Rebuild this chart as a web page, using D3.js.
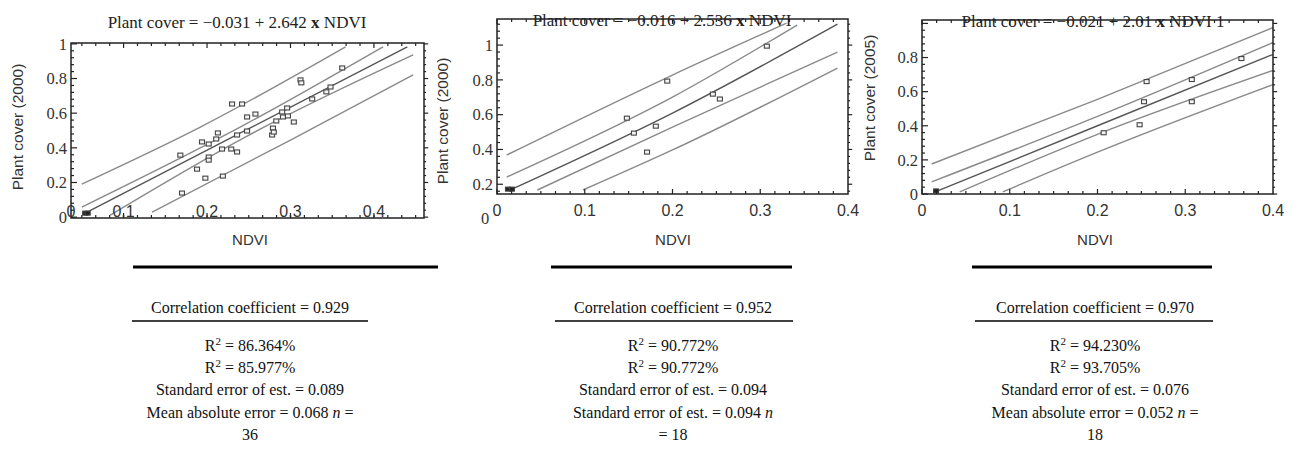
<!DOCTYPE html>
<html>
<head>
<meta charset="utf-8">
<script src="https://cdn.jsdelivr.net/npm/d3@7"></script>
<style>
  body { margin: 0; background: #fff; }
  svg { display: block; }
</style>
</head>
<body>
<svg id="chart" width="1296" height="453"></svg>
<script>
// ---- panel 1 : plant cover (2000) vs NDVI, n = 36
var ndvi1 = [0.054, 0.057, 0.168, 0.170, 0.188, 0.194, 0.198, 0.202, 0.202, 0.202, 0.211, 0.213,
             0.218, 0.219, 0.229, 0.230, 0.236, 0.236, 0.242, 0.248, 0.248, 0.258, 0.278, 0.279,
             0.280, 0.283, 0.290, 0.291, 0.296, 0.297, 0.304, 0.312, 0.313, 0.326, 0.343, 0.348, 0.362];
var cover1 = [0.023, 0.023, 0.358, 0.139, 0.277, 0.434, 0.225, 0.422, 0.347, 0.329, 0.451, 0.486,
              0.393, 0.237, 0.393, 0.653, 0.474, 0.376, 0.653, 0.578, 0.497, 0.595, 0.474, 0.514,
              0.491, 0.555, 0.607, 0.578, 0.630, 0.584, 0.549, 0.792, 0.775, 0.682, 0.723, 0.751, 0.861];
var solid1 = [0, 1];
// upper prediction, upper confidence, fitted, lower confidence, lower prediction
var bands1 = [
  [[0.050, 0.191], [0.192, 0.520], [0.366, 0.983]],
  [[0.050, 0.058], [0.243, 0.528], [0.411, 0.983]],
  [[0.054, 0.023], [0.243, 0.493], [0.440, 0.983]],
  [[0.084, 0.012], [0.243, 0.455], [0.447, 0.936]],
  [[0.134, 0.029], [0.300, 0.445], [0.447, 0.821]]
];
var xTicks1 = [0, 0.1, 0.2, 0.3, 0.4];
var yTicks1 = [0, 0.2, 0.4, 0.6, 0.8, 1];
var title1 = "Plant cover = \u22120.031 + 2.642 ";
var notes1 = ["Correlation coefficient = 0.929", "R^2 = 86.364%", "R^2 = 85.977%",
              "Standard error of est. = 0.089", "Mean absolute error = 0.068 *n* =", "36"];

// ---- panel 2 : plant cover (2000) vs NDVI, n = 18
var ndvi2 = [0.0125, 0.017, 0.148, 0.156, 0.171, 0.181, 0.194, 0.246, 0.254, 0.3075];
var cover2 = [0.172, 0.172, 0.580, 0.494, 0.385, 0.534, 0.793, 0.718, 0.690, 0.994];
var solid2 = [0, 1];
var bands2 = [
  [[0.011, 0.368], [0.200, 0.828], [0.330, 1.126]],
  [[0.011, 0.241], [0.200, 0.701], [0.342, 1.115]],
  [[0.015, 0.167], [0.200, 0.609], [0.388, 1.120]],
  [[0.046, 0.167], [0.200, 0.529], [0.388, 0.960]],
  [[0.098, 0.167], [0.200, 0.397], [0.388, 0.868]]
];
var xTicks2 = [0, 0.1, 0.2, 0.3, 0.4];
var yTicks2 = [0.2, 0.4, 0.6, 0.8, 1];
var title2 = "Plant cover = \u22120.016 + 2.536 ";
var notes2 = ["Correlation coefficient = 0.952", "R^2 = 90.772%", "R^2 = 90.772%",
              "Standard error of est. = 0.094", "Standard error of est. = 0.094 *n*", "= 18"];

// ---- panel 3 : plant cover (2005) vs NDVI, n = 18
var ndvi3 = [0.016, 0.207, 0.248, 0.253, 0.256, 0.3075, 0.3075, 0.364];
var cover3 = [0.018, 0.359, 0.406, 0.541, 0.659, 0.671, 0.541, 0.794];
var solid3 = [0];
var bands3 = [
  [[0.011, 0.176], [0.200, 0.555], [0.400, 0.976]],
  [[0.011, 0.071], [0.200, 0.455], [0.400, 0.888]],
  [[0.015, 0.012], [0.200, 0.400], [0.400, 0.818]],
  [[0.043, 0.012], [0.200, 0.350], [0.400, 0.724]],
  [[0.092, 0.012], [0.200, 0.245], [0.400, 0.641]]
];
var xTicks3 = [0, 0.1, 0.2, 0.3, 0.4];
var yTicks3 = [0, 0.2, 0.4, 0.6, 0.8];
var title3 = "Plant cover = \u22120.021 + 2.01 ";
var notes3 = ["Correlation coefficient = 0.970", "R^2 = 94.230%", "R^2 = 93.705%",
              "Standard error of est. = 0.076", "Mean absolute error = 0.052 *n* =", "18"];

var serif = "'Liberation Serif', 'Times New Roman', serif";
var sans = "'Liberation Sans', Arial, sans-serif";

var svg = d3.select("#chart");

var panels = [
  { x: ndvi1, y: cover1, solid: solid1, bands: bands1, xt: xTicks1, yt: yTicks1, title: title1, notes: notes1,
    yLabel: "Plant cover (2000)", xd: [0.037, 0.46], xr: [71, 424], yd: [-0.005, 1.005], yr: [218, 43],
    titleX: 237, titleY: 28, yLabX: 18, yLabY: 127, noteX: 250, ruleA: [133, 438], ruleB: [132, 368], xLabY: 217, ndviX: 250 },
  { x: ndvi2, y: cover2, solid: solid2, bands: bands2, xt: xTicks2, yt: yTicks2, title: title2, notes: notes2,
    yLabel: "Plant cover (2000)", xd: [0, 0.4], xr: [497, 848], yd: [0.144, 1.15], yr: [194, 19],
    titleX: 662, titleY: 26, yLabX: 443, yLabY: 121, noteX: 673, ruleA: [551, 792], ruleB: [555, 793], xLabY: 216, ndviX: 673 },
  { x: ndvi3, y: cover3, solid: solid3, bands: bands3, xt: xTicks3, yt: yTicks3, title: title3, notes: notes3,
    yLabel: "Plant cover (2005)", xd: [0, 0.4], xr: [922, 1273], yd: [0, 1.02], yr: [194, 20],
    titleX: 1093, titleY: 27, yLabX: 870, yLabY: 98, noteX: 1095, ruleA: [972, 1212], ruleB: [975, 1213], xLabY: 216, ndviX: 1095 }
];

panels.forEach(function (p, pi) {
  var x = d3.scaleLinear().domain(p.xd).range(p.xr);
  var y = d3.scaleLinear().domain(p.yd).range(p.yr);
  var g = svg.append("g").attr("class", "panel-" + (pi + 1));
  var left = p.xr[0], right = p.xr[1], top = p.yr[1], bottom = p.yr[0];

  // fitted line and bands
  var line = d3.line()
    .x(function (d) { return x(d[0]); })
    .y(function (d) { return y(d[1]); })
    .curve(d3.curveMonotoneX);
  g.selectAll(".band")
    .data(p.bands)
    .enter()
    .append("path")
    .attr("class", "band")
    .attr("d", line)
    .attr("fill", "none")
    .attr("stroke", function (d, i) { return i === 2 ? "#555" : "#8a8a8a"; })
    .attr("stroke-width", 1.4);

  // markers
  var pts = p.x.map(function (v, i) { return { x: v, y: p.y[i], solid: p.solid.indexOf(i) !== -1 }; });
  g.selectAll(".pt")
    .data(pts)
    .enter()
    .append("rect")
    .attr("class", "pt")
    .attr("x", function (d) { return x(d.x) - 2.5; })
    .attr("y", function (d) { return y(d.y) - 2; })
    .attr("width", 5)
    .attr("height", 4)
    .attr("fill", function (d) { return d.solid ? "#222" : "#f4f4f4"; })
    .attr("stroke", "#444")
    .attr("stroke-width", 1.1);

  // frame with minor ticks on all four sides
  g.append("rect")
    .attr("x", left).attr("y", top)
    .attr("width", right - left).attr("height", bottom - top)
    .attr("fill", "none").attr("stroke", "#222").attr("stroke-width", 1.5);

  var yMinor = d3.range(Math.ceil(p.yd[0] / 0.04) * 0.04, p.yd[1], 0.04);
  var xMinor = d3.range(Math.ceil(p.xd[0] * 60) / 60, p.xd[1], 1 / 60);
  function isMajor(v, step) { return Math.abs(v / step - Math.round(v / step)) < 0.01; }

  yMinor.forEach(function (v) {
    var len = isMajor(v, 0.2) ? 6 : 3;
    g.append("line").attr("x1", left).attr("x2", left + len).attr("y1", y(v)).attr("y2", y(v))
      .attr("stroke", "#222").attr("stroke-width", 1.2);
    g.append("line").attr("x1", right).attr("x2", right + len * 0.7).attr("y1", y(v)).attr("y2", y(v))
      .attr("stroke", "#222").attr("stroke-width", 1.2);
  });
  xMinor.forEach(function (v) {
    var len = isMajor(v, 0.1) ? 5 : 3;
    g.append("line").attr("y1", bottom).attr("y2", bottom - len).attr("x1", x(v)).attr("x2", x(v))
      .attr("stroke", "#222").attr("stroke-width", 1.2);
    g.append("line").attr("y1", top).attr("y2", top + len).attr("x1", x(v)).attr("x2", x(v))
      .attr("stroke", "#222").attr("stroke-width", 1.2);
  });

  // y tick labels (serif)
  g.selectAll(".ylab")
    .data(p.yt)
    .enter()
    .append("text")
    .attr("x", left - 4)
    .attr("y", function (d) { return y(d); })
    .attr("dy", "0.35em")
    .attr("text-anchor", "end")
    .style("font-family", serif)
    .style("font-size", "16.5px")
    .attr("fill", "#333")
    .text(function (d) { return d3.format("~g")(d); });

  if (pi === 1) {
    g.append("text").attr("x", left - 12).attr("y", bottom + 30)
      .attr("text-anchor", "middle")
      .style("font-family", serif).style("font-size", "16.5px").attr("fill", "#333").text("0");
  }

  // x tick labels (sans)
  g.selectAll(".xlab")
    .data(p.xt)
    .enter()
    .append("text")
    .attr("x", function (d) { return Math.max(x(d), left); })
    .attr("y", p.xLabY)
    .attr("text-anchor", "middle")
    .style("font-family", sans)
    .style("font-size", "16px")
    .attr("fill", "#333")
    .text(function (d) { return d3.format("~g")(d); });

  // axis titles
  g.append("text")
    .attr("x", p.ndviX)
    .attr("y", 245)
    .attr("text-anchor", "middle")
    .style("font-family", sans)
    .style("font-size", "15px")
    .attr("fill", "#333")
    .text("NDVI");

  g.append("text")
    .attr("transform", "translate(" + p.yLabX + "," + p.yLabY + ") rotate(-90)")
    .attr("dy", "0.35em")
    .attr("text-anchor", "middle")
    .style("font-family", sans)
    .style("font-size", "15.5px")
    .attr("fill", "#333")
    .text(p.yLabel);

  // regression equation
  var t = g.append("text")
    .attr("x", p.titleX)
    .attr("y", p.titleY)
    .attr("text-anchor", "middle")
    .style("font-family", serif)
    .style("font-size", "17px")
    .attr("fill", "#222");
  t.append("tspan").text(p.title);
  t.append("tspan").style("font-weight", "bold").text("x");
  t.append("tspan").text(pi === 2 ? " NDVI 1" : " NDVI");

  // statistics block
  svg.append("line")
    .attr("x1", p.ruleA[0]).attr("x2", p.ruleA[1]).attr("y1", 267).attr("y2", 267)
    .attr("stroke", "#000").attr("stroke-width", 3);
  svg.append("line")
    .attr("x1", p.ruleB[0]).attr("x2", p.ruleB[1]).attr("y1", 321).attr("y2", 321)
    .attr("stroke", "#000").attr("stroke-width", 1.3);

  var baselines = [313, 351, 373, 395, 418, 440];
  p.notes.forEach(function (s, i) {
    var txt = svg.append("text")
      .attr("x", p.noteX)
      .attr("y", baselines[i])
      .attr("text-anchor", "middle")
      .style("font-family", serif)
      .style("font-size", "16px")
      .attr("fill", "#111");
    // "^2" -> superscript, "*n*" -> italic
    var shift = 0;
    s.split(/(\^2|\*n\*)/).forEach(function (part) {
      if (part === "^2") {
        txt.append("tspan").attr("dy", -6).style("font-size", "11px").text("2");
        shift = 6;
      } else if (part.length) {
        var ts = txt.append("tspan").attr("dy", shift).text(part === "*n*" ? "n" : part);
        if (part === "*n*") ts.style("font-style", "italic");
        shift = 0;
      }
    });
  });
});
</script>
</body>
</html>
